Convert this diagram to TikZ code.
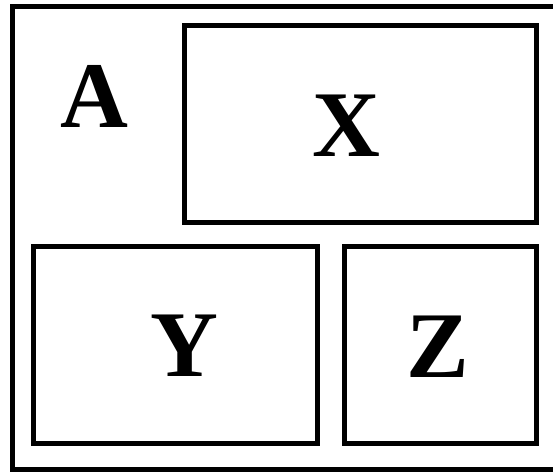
\documentclass[tikz,border=0pt]{standalone}
\usepackage{fontspec}
\setmainfont{LiberationSerif-Regular.ttf}[BoldFont=LiberationSerif-Bold.ttf]
\usetikzlibrary{positioning}
\tikzset{
  panel/.style = {rectangle, draw=black, line width=5pt, inner sep=0pt},
  letter/.style = {inner sep=0pt, font=\fontsize{94}{94}\selectfont\bfseries}
}

\begin{document}
\begin{tikzpicture}[x=1pt, y=-1pt]
  \useasboundingbox (0,0) rectangle (553,472);
  \clip (0,0) rectangle (553,472);
  % outer frame, runs off the right side
  \draw[line width=5pt] (12,6.5) rectangle (575,469.5);

  \node[panel, minimum width=352pt, minimum height=197pt]   (xbox) at (360,124) {};
  \node[panel, minimum width=284.5pt, minimum height=196.5pt] (ybox) at (175.25,344.75) {};
  \node[panel, minimum width=191.5pt, minimum height=196.5pt] (zbox) at (440.25,344.75) {};

  \node[letter] (la) at (94.5,96)  {A};
  \node[letter] (lx) at (346.5,125.5) {X};
  \node[letter] (ly) at (184,346) {Y};
  \node[letter] (lz) at (438,347) {Z};
\end{tikzpicture}
\end{document}
